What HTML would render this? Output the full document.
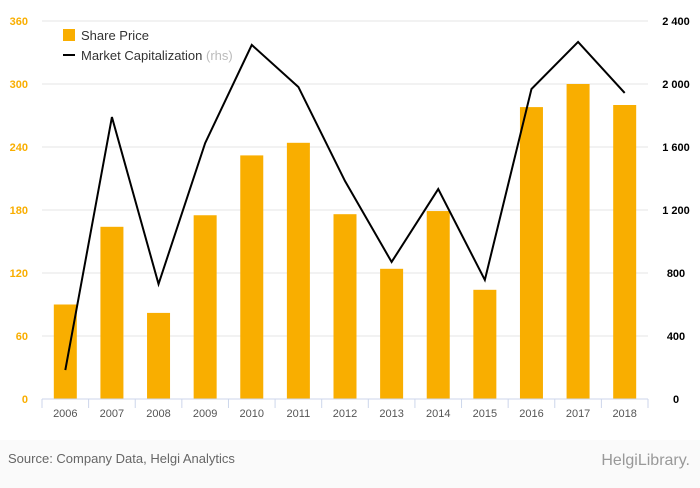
<!DOCTYPE html>
<html><head><meta charset="utf-8"><style>
body{margin:0;width:700px;height:483px;overflow:hidden;background:#fafafa;font-family:"Liberation Sans",sans-serif}
</style></head><body>
<svg width="700" height="483" xmlns="http://www.w3.org/2000/svg">
<rect x="0" y="0" width="700" height="440" fill="#ffffff"/>
<g id="grid"></g><g id="bars"></g><g id="line"></g><g id="axes"></g>
<g>
<rect x="63" y="29" width="12" height="12" fill="#f9ae00"/>
<text x="81" y="40" font-size="13" fill="#333">Share Price</text>
<line x1="63" y1="55" x2="75" y2="55" stroke="#000" stroke-width="2"/>
<text x="81" y="60" font-size="13" fill="#333">Market Capitalization <tspan fill="#bbb">(rhs)</tspan></text>
</g>
<text x="8" y="463" font-size="13" fill="#666">Source: Company Data, Helgi Analytics</text>
<text x="690" y="465" font-size="16" fill="#999" text-anchor="end">HelgiLibrary.</text>
</svg>
<script>
const years=["2006","2007","2008","2009","2010","2011","2012","2013","2014","2015","2016","2017","2018"];
const sharePrice=[90,164,82,175,232,244,176,124,179,104,278,300,280];
const marketCap=[184,1790,730,1625,2248,1981,1384,870,1333,756,1968,2267,1943];
const leftTicks=[0,60,120,180,240,300,360];
const rightTicks=[0,400,800,1200,1600,2000,2400];
const rightTickLabels=["0","400","800","1 200","1 600","2 000","2 400"];
const NS="http://www.w3.org/2000/svg";
const x0=42,x1=648,yB=399,yT=21;
const band=(x1-x0)/years.length;
const xc=i=>x0+band*(i+0.5);
const yL=v=>yB-(v/360)*(yB-yT);
const yR=v=>yB-(v/2400)*(yB-yT);
function mk(t,a,p){const e=document.createElementNS(NS,t);for(const k in a)e.setAttribute(k,a[k]);p.appendChild(e);return e;}
const g=document.getElementById('grid'),b=document.getElementById('bars'),l=document.getElementById('line'),ax=document.getElementById('axes');
leftTicks.forEach((v,i)=>{
 if(v>0){const ln=mk('line',{x1:x0,x2:x1,y1:yL(v),y2:yL(v),stroke:'#e6e6e6'},g);
 
 }
 const t=mk('text',{x:28,y:yL(v)+4,'font-size':11,fill:'#f9ae00','text-anchor':'end','font-weight':'bold'},ax);t.textContent=v;
 
 
 const r=mk('text',{x:676,y:yR(rightTicks[i])+4,'font-size':11,fill:'#000','text-anchor':'middle','font-weight':'bold'},ax);r.textContent=rightTickLabels[i];
 
 
});
years.forEach((y,i)=>{
 const r=mk('rect',{x:xc(i)-11.5,y:yL(sharePrice[i]),width:23,height:yB-yL(sharePrice[i]),fill:'#f9ae00'},b);
 
 
 const t=mk('text',{x:xc(i),y:417,'font-size':11,fill:'#555','text-anchor':'middle'},ax);t.textContent=y;
 
 
});
for(let i=0;i<=years.length;i++){const tk=mk('line',{x1:x0+band*i,x2:x0+band*i,y1:yB,y2:yB+9,stroke:'#ccd6eb'},ax);
 
 }
const axl=mk('line',{x1:x0,x2:x1,y1:yB,y2:yB,stroke:'#ccd6eb'},ax);


const pl=mk('polyline',{points:marketCap.map((v,i)=>xc(i)+','+yR(v)).join(' '),fill:'none',stroke:'#000','stroke-width':2},l);


</script>
</body></html>
